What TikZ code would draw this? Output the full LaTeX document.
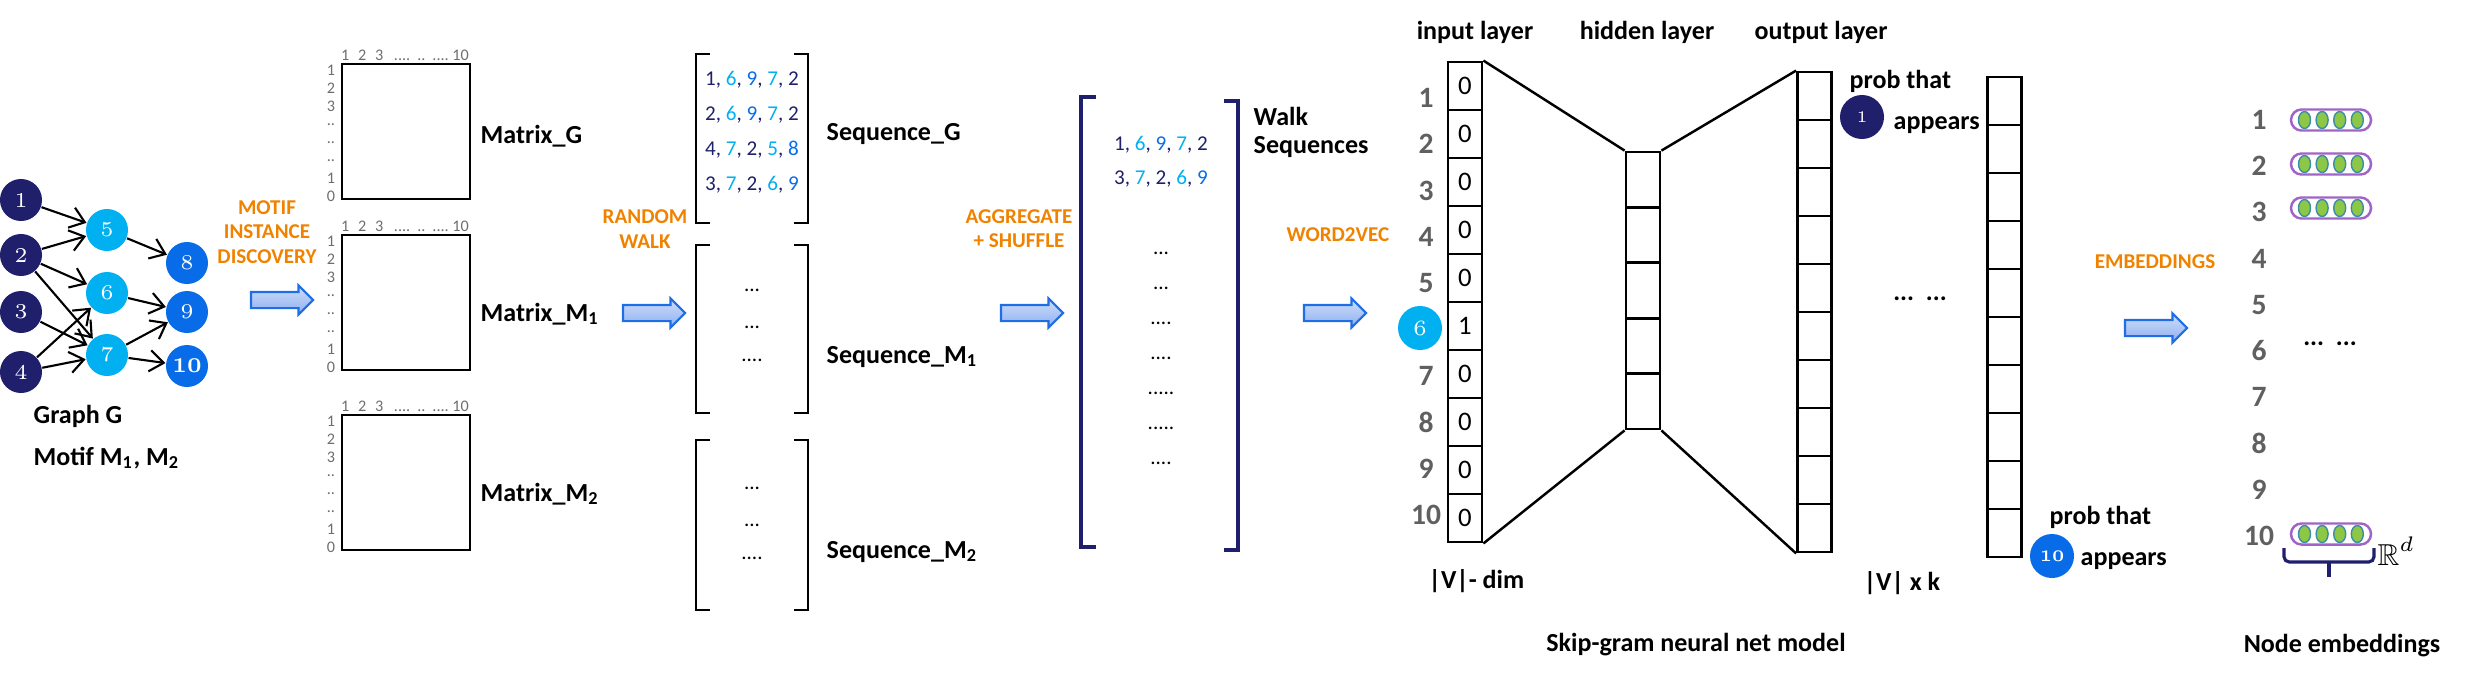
\documentclass[tikz,border=0pt]{standalone}
\usepackage{fontspec}
\usepackage{amssymb}
\usetikzlibrary{positioning,arrows.meta,shapes.arrows,shapes.misc,shapes.geometric}

\newfontfamily\calib{Carlito}

\definecolor{navy}{RGB}{31,31,107}
\definecolor{skyb}{RGB}{0,176,240}
\definecolor{midb}{RGB}{8,108,232}
\definecolor{orng}{RGB}{240,130,0}
\definecolor{numgray}{RGB}{96,96,96}
\definecolor{lblgray}{RGB}{110,110,110}
\definecolor{arrowtop}{RGB}{208,222,250}
\definecolor{arrowbot}{RGB}{140,175,240}
\definecolor{arrowline}{RGB}{30,110,230}
\definecolor{embpurple}{RGB}{160,100,200}
\definecolor{embgreen}{RGB}{140,200,70}
\definecolor{embedge}{RGB}{60,140,170}

\newcommand\sq[1]{\ifnum#1<5 \textcolor{navy}{#1}\else\ifnum#1<8 \textcolor{skyb}{#1}\else\textcolor{midb}{#1}\fi\fi}
\newcommand\ndots[1]{\ifcase#1\or.\or..\or...\or....\or.....\fi}

\tikzset{
  vtx/.style={circle, minimum size=0.42cm, inner sep=0pt, text=white,
    font=\rmfamily\fontsize{6}{6.5}\selectfont},
  lbl/.style={inner sep=0pt, anchor=base west, font=\calib\bfseries\fontsize{7.4}{8.5}\selectfont},
  steplbl/.style={inner sep=0pt, align=center, text=orng, font=\calib\bfseries\fontsize{6}{6.9}\selectfont},
  bigarrow/.style={single arrow, draw=arrowline, line width=0.6pt, top color=arrowtop, bottom color=arrowbot,
    inner sep=0.07cm, single arrow head extend=0.065cm, minimum height=0.62cm},
  mbox/.style={draw, line width=0.8pt, minimum width=1.28cm, minimum height=1.35cm, inner sep=0pt},
  axlbl/.style={inner sep=0pt, text=lblgray, font=\calib\fontsize{4.6}{5}\selectfont},
  seqtxt/.style={inner sep=0pt, text=navy, font=\calib\fontsize{6}{7}\selectfont},
  dotstxt/.style={inner sep=0pt, font=\calib\fontsize{6}{7}\selectfont},
  cell/.style={draw, line width=0.8pt, minimum width=0.34cm, minimum height=0.48cm, inner sep=0pt,
    font=\calib\fontsize{7.6}{8}\selectfont},
  hcell/.style={draw, line width=0.8pt, minimum width=0.34cm, minimum height=0.554cm, inner sep=0pt},
  rownum/.style={inner sep=0pt, text=numgray, font=\calib\bfseries\fontsize{8.4}{9}\selectfont},
  capsule/.style={rounded rectangle, draw=embpurple, line width=0.7pt, minimum width=0.8cm,
    minimum height=0.21cm, inner sep=0pt},
  emdot/.style={ellipse, fill=embgreen, draw=embedge, line width=0.4pt, minimum width=0.12cm,
    minimum height=0.17cm, inner sep=0pt},
}

\begin{document}
\begin{tikzpicture}[x=0.01cm, y=-0.01cm, font=\calib]

      \useasboundingbox (0,0) rectangle (2475,675);

      \begin{scope}[every node/.style={vtx}]
        \node[fill=navy] (1)  at (21,200)  {1};
        \node[fill=navy] (2)  at (21,255)  {2};
        \node[fill=navy] (3)  at (21,312)  {3};
        \node[fill=navy] (4)  at (21,372)  {4};
        \node[fill=skyb] (5)  at (107,230) {5};
        \node[fill=skyb] (6)  at (107,293) {6};
        \node[fill=skyb] (7)  at (107,355) {7};
        \node[fill=midb] (8)  at (187,263) {8};
        \node[fill=midb] (9)  at (187,312) {9};
        \node[fill=midb] (10) at (187,366) {\textbf{10}};
      \end{scope}

      \begin{scope}[every edge/.style={draw, line width=0.6pt, -{Straight Barb[length=4pt,width=6pt]}}]
        \path (1) edge (5);
        \path (2) edge (5);
        \path (2) edge (6);
        \path (2) edge (7);
        \path (3) edge (7);
        \path (4) edge (6);
        \path (4) edge (7);
        \path (5) edge (8);
        \path (6) edge (9);
        \path (7) edge (9);
        \path (7) edge (10);
      \end{scope}

      \node[lbl] (graphg) at (33,423) {Graph G};
      \node[lbl] (motifs) at (33,465) {Motif M\textsubscript{1}, M\textsubscript{2}};

      \node[steplbl] (motiflbl) at (267,232) {MOTIF\\INSTANCE\\DISCOVERY};
      \node[steplbl] (walklbl)  at (645,229) {RANDOM\\WALK};
      \node[steplbl] (agglbl)   at (1019,229) {AGGREGATE\\+ SHUFFLE};
      \node[steplbl] (w2vlbl)   at (1338,235) {WORD2VEC};
      \node[steplbl] (emblbl)   at (2155,262) {EMBEDDINGS};

      \node[bigarrow] (arr1) at (278,300) {};
      \node[bigarrow] (arr2) at (650,313) {};
      \node[bigarrow] (arr3) at (1028,313) {};
      \node[bigarrow] (arr4) at (1331,313) {};
      \node[bigarrow] (arr5) at (2152,328) {};

      \foreach \nm/\yc/\yb/\txt in {mG/131.5/143/{Matrix\_G}, mA/302.5/321/{Matrix\_M\textsubscript{1}}, mB/482.5/501/{Matrix\_M\textsubscript{2}}} {
        \node[mbox] (\nm) at (406,\yc) {};
        \node[lbl] (\nm-name) at (480,\yb) {\txt};
        \node[axlbl] (\nm-cols) at (405,{\yc-76.5}) {1\hspace{2.5pt}2\hspace{2.5pt}3\hspace{3pt}\ndots4\hspace{2pt}\ndots2\hspace{2pt}\ndots4\hspace{1pt}10};
        \foreach \t [count=\k] in {1,2,3,\ndots2,\ndots2,\ndots2,1,0}
          \node[axlbl] (\nm-r\k) at (331,{\yc-61.5+18.1*(\k-1)}) {\t};
      }

      \foreach \yt/\yb in {54/223, 245/413, 440/610} {
        \draw[line width=0.8pt] (710,\yt) -- (696,\yt) -- (696,\yb) -- (710,\yb);
        \draw[line width=0.8pt] (794,\yt) -- (808,\yt) -- (808,\yb) -- (794,\yb);
      }

      \node[seqtxt] (sg1) at (752,80)  {\sq1, \sq6, \sq9, \sq7, \sq2};
      \node[seqtxt] (sg2) at (752,115) {\sq2, \sq6, \sq9, \sq7, \sq2};
      \node[seqtxt] (sg3) at (752,150) {\sq4, \sq7, \sq2, \sq5, \sq8};
      \node[seqtxt] (sg4) at (752,185) {\sq3, \sq7, \sq2, \sq6, \sq9};

      \foreach \n/\yy [count=\k] in {3/290, 3/327, 4/360} {
        \node[dotstxt] (sa\k) at (752,\yy) {\ndots\n};
        \node[dotstxt] (sb\k) at (752,{\yy+198}) {\ndots\n};
      }

      \node[lbl] (seqG) at (826,140) {Sequence\_G};
      \node[lbl] (seqA) at (826,363) {Sequence\_M\textsubscript{1}};
      \node[lbl] (seqB) at (826,558) {Sequence\_M\textsubscript{2}};

      \draw[navy, line width=0.9pt] (1096,97) -- (1081,97) -- (1081,547) -- (1096,547);
      \draw[navy, line width=0.9pt] (1224,101) -- (1238,101) -- (1238,550) -- (1224,550);

      \node[seqtxt] (ws1) at (1161,145) {\sq1, \sq6, \sq9, \sq7, \sq2};
      \node[seqtxt] (ws2) at (1161,179) {\sq3, \sq7, \sq2, \sq6, \sq9};
      \foreach \n/\yy [count=\k] in {3/253, 3/288, 4/323, 4/358, 5/393, 5/428, 4/463}
        \node[dotstxt] (wd\k) at (1161,\yy) {\ndots\n};

      \node[lbl] (walk) at (1253,125) {Walk};
      \node[lbl] (seqs) at (1253,153) {Sequences};

      \node[lbl, anchor=base] (inlay)  at (1475,39) {input layer};
      \node[lbl, anchor=base] (hidlay) at (1647,39) {hidden layer};
      \node[lbl, anchor=base] (outlay) at (1821,39) {output layer};

      \foreach \v [count=\i] in {0,0,0,0,0,1,0,0,0,0}
        \node[cell] (in\i) at (1465,{62+48*(\i-0.5)}) {\v};
      \foreach \i in {1,2,3,4,5}
        \node[hcell] (hid\i) at (1643,{152+55.4*(\i-0.5)}) {};
      \foreach \i in {1,2,3,4,5,6,7,8,9,10} {
        \node[cell] (oa\i) at (1814.5,{72+48*(\i-0.5)}) {};
        \node[cell] (ob\i) at (2004.5,{77+48*(\i-0.5)}) {};
      }

      \draw[line width=0.7pt] (in1.north east) -- (hid1.north west);
      \draw[line width=0.7pt] (in10.south east) -- (hid5.south west);
      \draw[line width=0.7pt] (hid1.north east) -- (oa1.north west);
      \draw[line width=0.7pt] (hid5.south east) -- (oa10.south west);

      \foreach \i in {1,2,3,4,5,7,8,9,10}
        \node[rownum] (rn\i) at (1426,{98+46.3*(\i-1)}) {\i};
      \node[vtx, fill=skyb, minimum size=0.44cm, font=\rmfamily\fontsize{6.2}{7}\selectfont] (rn6) at (1420,328) {6};

      \node[lbl] (dimv) at (1428,588) {|V|- dim};
      \node[lbl, anchor=base] (dimk) at (1902,590) {|V| x k};

      \node[lbl] (prob1) at (1849,88) {prob that};
      \node[vtx, fill=navy, minimum size=0.44cm, font=\rmfamily\fontsize{4.6}{5}\selectfont] (p1) at (1862,117) {1};
      \node[lbl] (app1) at (1893,129) {appears};
      \node[lbl] (prob10) at (2049,524) {prob that};
      \node[vtx, fill=midb, minimum size=0.44cm, font=\rmfamily\bfseries\fontsize{4.6}{5}\selectfont] (p10) at (2052,556) {10};
      \node[lbl] (app10) at (2080,565) {appears};
      \node[lbl, anchor=base] (odots) at (1920,300) {\ndots3\ \ \ndots3};

      \node[lbl, anchor=base] (skipg) at (1696,651) {Skip-gram neural net model};

      \foreach \i in {1,2,3,4,5,6,7,8,9,10}
        \node[rownum] (en\i) at (2259,{120+46.2*(\i-1)}) {\i};
      \foreach \r/\yy in {1/120, 2/164, 3/208, 10/534} {
        \node[capsule] (emb\r) at (2331,\yy) {};
        \foreach \k in {1,2,3,4}
          \node[emdot] (emb\r-\k) at ({2304.5+17.6*(\k-1)},\yy) {};
      }
      \node[lbl, anchor=base] (edots) at (2330,345) {\ndots3\ \ \ndots3};

      \draw[navy, line width=0.9pt, rounded corners=1.5pt] (2284,548) -- (2284,562) -- (2374,562) -- (2374,548);
      \draw[navy, line width=0.9pt] (2329,562) -- (2329,577);
      \node[inner sep=0pt, anchor=base west, font=\fontsize{8.6}{9}\selectfont] (rd) at (2377,565) {$\mathbb{R}^{d}$};

      \node[lbl, anchor=base] (nodeemb) at (2342,652) {Node embeddings};

    \end{tikzpicture}
\end{document}
